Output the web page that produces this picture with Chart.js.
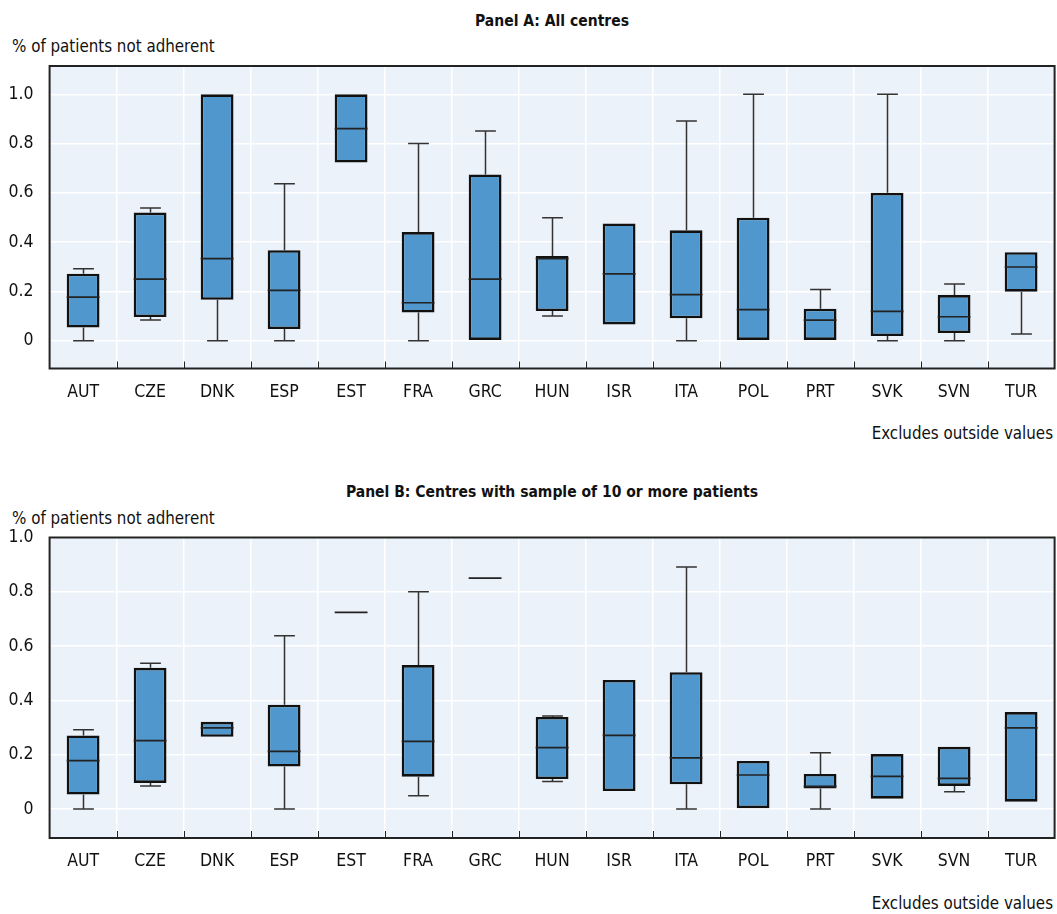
<!DOCTYPE html>
<html>
<head>
<meta charset="utf-8">
<script src="https://cdn.jsdelivr.net/npm/chart.js@4.4.1/dist/chart.umd.min.js"></script>
<style>
  body { margin: 0; background: #fff; width: 1057px; height: 914px; position: relative; overflow: hidden;
         font-family: 'Liberation Sans Narrow', 'DejaVu Sans Condensed', 'Roboto Condensed', sans-serif; color: #111; }
  .txt { position: absolute; white-space: nowrap; line-height: 1; }
  .title { font-weight: bold; font-size: 15.5px; transform: translateX(-50%); }
  .ytitle { font-size: 16.8px; left: 12px; }
  .note { font-size: 16.8px; right: 4px; }
  canvas { position: absolute; left: 0; }
</style>
</head>
<body>
<div class="txt title" style="left:552px; top:14px;">Panel A: All centres</div>
<div class="txt ytitle" style="top:38px;">% of patients not adherent</div>
<div class="txt note" style="top:425px;">Excludes outside values</div>
<div class="txt title" style="left:552px; top:485px;">Panel B: Centres with sample of 10 or more patients</div>
<div class="txt ytitle" style="top:510px;">% of patients not adherent</div>
<div class="txt note" style="top:895px;">Excludes outside values</div>

<canvas id="chartA" style="top:0px;" width="1057" height="410"></canvas>
<canvas id="chartB" style="top:470px;" width="1057" height="410"></canvas>

<script>
const countries = ['AUT', 'CZE', 'DNK', 'ESP', 'EST', 'FRA', 'GRC', 'HUN', 'ISR', 'ITA', 'POL', 'PRT', 'SVK', 'SVN', 'TUR'];
const yTicks = [0, 0.2, 0.4, 0.6, 0.8, 1.0];

// Panel A: all centres
const aMin = [0, 0.084, 0, 0, 0.723, 0, 0, 0.100, 0.066, 0, 0, 0, 0, 0, 0.027];
const aQ1  = [0.053, 0.096, 0.166, 0.047, 0.723, 0.114, 0, 0.120, 0.066, 0.091, 0, 0, 0.019, 0.031, 0.199];
const aMed = [0.177, 0.250, 0.333, 0.204, 0.861, 0.154, 0.250, 0.333, 0.271, 0.187, 0.126, 0.083, 0.119, 0.097, 0.299];
const aQ3  = [0.272, 0.520, 1.0, 0.367, 1.0, 0.441, 0.675, 0.344, 0.476, 0.448, 0.499, 0.130, 0.600, 0.185, 0.359];
const aMax = [0.292, 0.539, 1.0, 0.637, 1.0, 0.800, 0.851, 0.499, 0.476, 0.892, 1.0, 0.208, 1.0, 0.230, 0.359];

// Panel B: centres with 10+ patients
const bMin = [0, 0.085, 0.266, 0, 0.724, 0.049, 0.850, 0.101, 0.066, 0, 0, 0, 0.038, 0.063, 0.027];
const bQ1  = [0.053, 0.096, 0.266, 0.156, 0.724, 0.119, 0.850, 0.110, 0.066, 0.091, 0, 0.075, 0.038, 0.085, 0.027];
const bMed = [0.178, 0.252, 0.299, 0.212, 0.724, 0.249, 0.850, 0.226, 0.271, 0.188, 0.125, 0.083, 0.120, 0.113, 0.299];
const bQ3  = [0.271, 0.520, 0.321, 0.384, 0.724, 0.530, 0.850, 0.339, 0.475, 0.504, 0.177, 0.129, 0.202, 0.229, 0.357];
const bMax = [0.292, 0.537, 0.321, 0.638, 0.724, 0.800, 0.850, 0.342, 0.475, 0.891, 0.177, 0.207, 0.202, 0.229, 0.357];

const FONT = "'Liberation Sans Narrow', 'DejaVu Sans Condensed', 'Roboto Condensed', sans-serif";
const BOX_PCT = 0.49;
const CAP_PCT = 0.31;

function boxPlugin(stats) {
    return {
        id: 'boxParts',
        beforeDraw(chart) {
            const a = chart.chartArea, c = chart.ctx;
            c.save();
            c.fillStyle = '#ecf2f9';
            c.fillRect(a.left, a.top, a.right - a.left, a.bottom - a.top);
            c.restore();
        },
        beforeDatasetsDraw(chart) {
            // whiskers behind the boxes
            const x = chart.scales.x, y = chart.scales.y, c = chart.ctx;
            const step = x.getPixelForValue(1) - x.getPixelForValue(0);
            c.save();
            c.strokeStyle = '#333';
            c.lineWidth = 1.5;
            stats.min.forEach((v, i) => {
                const cx = Math.round(x.getPixelForValue(i)) + 0.5;
                const half = step * CAP_PCT / 2;
                [[stats.min[i], stats.q1[i]], [stats.max[i], stats.q3[i]]].forEach(([end, edge]) => {
                    if (Math.abs(end - edge) < 1e-9) return;
                    const ye = y.getPixelForValue(end), yb = y.getPixelForValue(edge);
                    c.beginPath();
                    c.moveTo(cx, ye); c.lineTo(cx, yb);
                    c.moveTo(cx - half, ye); c.lineTo(cx + half, ye);
                    c.stroke();
                });
            });
            c.restore();
        },
        afterDatasetsDraw(chart) {
            // medians
            const x = chart.scales.x, y = chart.scales.y, c = chart.ctx;
            const step = x.getPixelForValue(1) - x.getPixelForValue(0);
            c.save();
            c.strokeStyle = '#222';
            c.lineWidth = 1.7;
            stats.med.forEach((v, i) => {
                const cx = x.getPixelForValue(i);
                const half = step * BOX_PCT / 2;
                const ym = y.getPixelForValue(v);
                c.beginPath();
                c.moveTo(cx - half, ym); c.lineTo(cx + half, ym);
                c.stroke();
            });
            c.restore();
        },
        afterDraw(chart) {
            const a = chart.chartArea, c = chart.ctx, x = chart.scales.x;
            c.save();
            c.strokeStyle = '#222';
            // small ticks at category boundaries, inside the bottom edge
            c.lineWidth = 1;
            for (let i = 0; i < countries.length - 1; i++) {
                const px = Math.round((x.getPixelForValue(i) + x.getPixelForValue(i + 1)) / 2) + 0.5;
                c.beginPath();
                c.moveTo(px, a.bottom); c.lineTo(px, a.bottom - 7);
                c.stroke();
            }
            c.lineWidth = 2;
            c.strokeRect(a.left, a.top, a.right - a.left, a.bottom - a.top);
            c.restore();
        }
    };
}

function makeChart(id, stats, yMin, yMax, top, bottom) {
    const boxes = stats.q1.map((v, i) => stats.q1[i] === stats.q3[i] ? null : [stats.q1[i], stats.q3[i]]);
    const canvas = document.getElementById(id);
    return new Chart(canvas, {
        type: 'bar',
        data: {
            labels: countries,
            datasets: [{
                data: boxes,
                backgroundColor: '#4f97cc',
                borderColor: '#111',
                borderWidth: 2.6,
                borderSkipped: false,
                barPercentage: BOX_PCT,
                categoryPercentage: 1
            }]
        },
        options: {
            responsive: false,
            animation: false,
            devicePixelRatio: 1,
            layout: { padding: { top: top, left: 0, right: 2.4, bottom: 0 } },
            plugins: { legend: { display: false }, tooltip: { enabled: false }, title: { display: false } },
            scales: {
                x: {
                    grid: { color: '#ffffff', lineWidth: 1.5, offset: true, drawTicks: false },
                    border: { display: false },
                    ticks: { color: '#111', font: { family: FONT, size: 17.5 }, padding: 13, maxRotation: 0, autoSkip: false },
                    afterFit(scale) { scale.height = 410 - bottom; }
                },
                y: {
                    min: yMin,
                    max: yMax,
                    grid: { color: '#ffffff', lineWidth: 1.5, drawTicks: false },
                    border: { display: false },
                    ticks: {
                        color: '#111', font: { family: FONT, size: 17.5 }, padding: 16,
                        callback: v => v === 0 ? '0' : v.toFixed(1)
                    },
                    afterBuildTicks(scale) { scale.ticks = yTicks.map(v => ({ value: v })); },
                    afterFit(scale) { scale.width = 49.6; }
                }
            }
        },
        plugins: [boxPlugin(stats)]
    });
}

makeChart('chartA', { min: aMin, q1: aQ1, med: aMed, q3: aQ3, max: aMax }, -0.113, 1.115, 66, 368.5);
makeChart('chartB', { min: bMin, q1: bQ1, med: bMed, q3: bQ3, max: bMax }, -0.107, 1.0, 537.5 - 470, 838 - 470);
</script>
</body>
</html>
